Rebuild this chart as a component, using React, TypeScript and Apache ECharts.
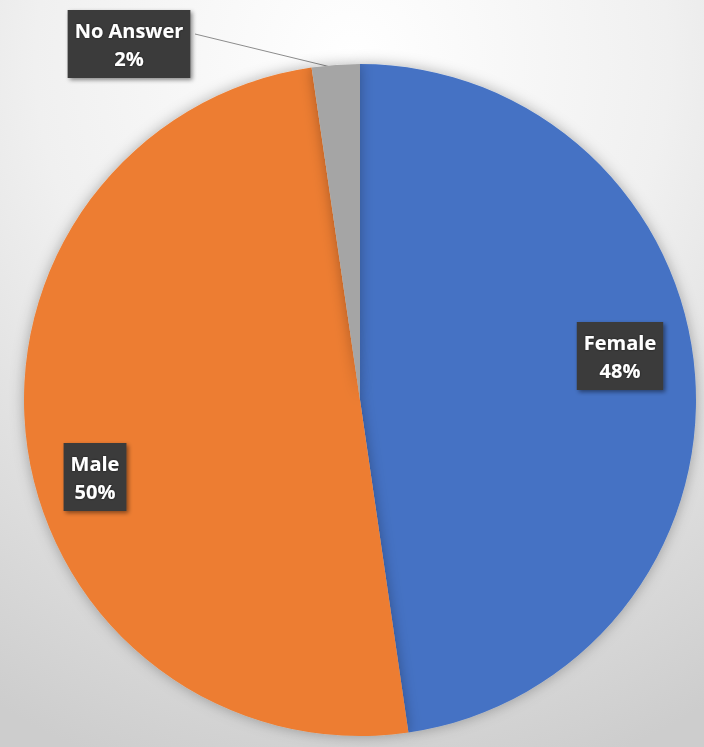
import React, { useEffect, useRef } from "react";
import * as echarts from "echarts";

// Slice categories and values (percent of respondents)
const categories = ["Female", "Male", "No Answer"];
const sliceValues = [47.7, 50.0, 2.3];
const sliceColors = ["#4472C4", "#ED7D31", "#A5A5A5"];

export default function App() {
  const ref = useRef<HTMLDivElement>(null);

  useEffect(() => {
    if (!ref.current) return;
    const chart = echarts.init(ref.current, undefined, { renderer: "svg" });

    const labelCenters: Record<number, [number, number]> = {
      0: [620, 356],
      1: [95, 477],
      2: [129, 44],
    };

    const baseLabel = {
      show: true,
      position: "inside" as const,
      formatter: (p: any) => `${p.name}\n${Math.round(p.percent)}%`,
      color: "#ffffff",
      fontFamily: "'Open Sans', 'Noto Sans', sans-serif",
      fontWeight: "bold" as const,
      fontSize: 20,
      lineHeight: 28,
      align: "center" as const,
      verticalAlign: "middle" as const,
      backgroundColor: "#3a3a3a",
      padding: [6, 7, 6, 7],
      shadowColor: "rgba(0,0,0,0.45)",
      shadowBlur: 4,
      shadowOffsetX: 2,
      shadowOffsetY: 2,
      textShadowColor: "rgba(0,0,0,0.6)",
      textShadowBlur: 2,
    };

    const data = categories.map((name, i) => {
      const item: any = {
        name,
        value: sliceValues[i],
        itemStyle: { color: sliceColors[i] },
      };
      if (i === 2) {
        item.label = { position: "outside" };
        item.labelLine = {
          show: true,
          lineStyle: { color: "#8c8c8c", width: 1 },
        };
      }
      return item;
    });

    chart.setOption({
      animation: false,
      backgroundColor: {
        type: "radial",
        x: 0.5,
        y: 0.08,
        r: 1.0,
        colorStops: [
          { offset: 0, color: "#ffffff" },
          { offset: 0.45, color: "#f0f0f0" },
          { offset: 1, color: "#cdcdcd" },
        ],
      },
      series: [
        {
          type: "pie",
          center: [360, 400],
          radius: 336,
          startAngle: 90,
          clockwise: true,
          data,
          label: baseLabel,
          labelLine: { show: false },
          itemStyle: {
            borderWidth: 0,
            shadowBlur: 14,
            shadowColor: "rgba(0,0,0,0.3)",
          },
          emphasis: { disabled: true },
          labelLayout: (params: any) => {
            const c = labelCenters[params.dataIndex];
            const out: any = {
              x: c[0],
              y: c[1],
              align: "center",
              verticalAlign: "middle",
            };
            if (params.dataIndex === 2) {
              out.labelLinePoints = [
                [195, 34],
                [265, 51],
                [335, 68],
              ];
            }
            return out;
          },
        },
      ],
    });

    return () => chart.dispose();
  }, []);

  return (
    <div
      ref={ref}
      style={{
        position: "fixed",
        left: 0,
        top: 0,
        width: "704px",
        height: "747px",
      }}
    />
  );
}
